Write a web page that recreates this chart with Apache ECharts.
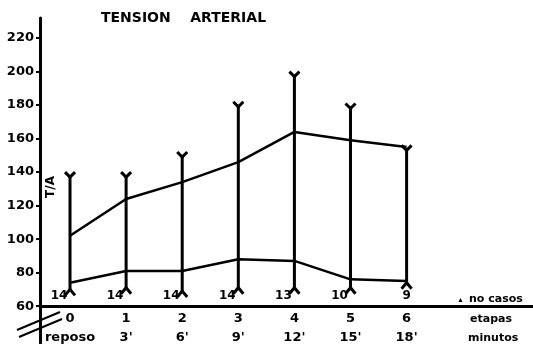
<!DOCTYPE html>
<html>
<head>
<meta charset="utf-8">
<script src="https://cdn.jsdelivr.net/npm/echarts@6/dist/echarts.min.js"></script>
<style>
  html, body { margin: 0; padding: 0; background: #fff; }
  #chart { width: 533px; height: 344px; }
</style>
</head>
<body>
<div id="chart"></div>
<script>
// etapas 0..6 (reposo, 3', 6' ... 18')
const stages = [0, 1, 2, 3, 4, 5, 6];
const stageLabels = ['0', '1', '2', '3', '4', '5', '6'];
const minuteLabels = ['reposo', "3'", "6'", "9'", "12'", "15'", "18'"];
const systolic = [102, 124, 134, 146, 164, 159, 155];
const diastolic = [74, 81, 81, 88, 87, 76, 75];
const rangeHigh = [140, 140, 152, 182, 200, 181, 156];
const rangeLow = [70, 71, 69, 71, 71, 71, 74];
const cases = [14, 14, 14, 14, 13, 10, 9];
const yTicks = [60, 80, 100, 120, 140, 160, 180, 200, 220];

const chart = echarts.init(document.getElementById('chart'));
const ink = '#000';
const font = 'DejaVu Sans';

const option = {
  backgroundColor: '#fff',
  animation: false,
  title: {
    text: 'TENSION    ARTERIAL',
    left: 96,
    top: 6,
    textStyle: { fontFamily: font, fontWeight: 'bold', fontSize: 14, color: ink }
  },
  grid: { left: 40, right: 0, top: 18, bottom: 0 },
  xAxis: {
    type: 'value',
    min: -0.535,
    max: 8.253,
    offset: -37, // baseline sits at 60 mmHg, axis keeps running below
    splitLine: { show: false },
    axisLine: { onZero: false, lineStyle: { color: ink, width: 3 } },
    axisTick: { show: false },
    axisLabel: {
      customValues: stages,
      margin: 3,
      formatter: (v) => '{d|' + stageLabels[v] + '}\n{m|' + minuteLabels[v] + '}',
      rich: {
        d: { fontFamily: font, fontWeight: 'bold', fontSize: 13, color: ink, lineHeight: 19 },
        m: { fontFamily: font, fontWeight: 'bold', fontSize: 13, color: ink, lineHeight: 19 }
      }
    }
  },
  yAxis: {
    type: 'value',
    min: 38,
    max: 232,
    splitLine: { show: false },
    axisLine: { show: true, onZero: false, lineStyle: { color: ink, width: 3 } },
    axisTick: { show: true, customValues: yTicks, length: 4, lineStyle: { color: ink, width: 2 } },
    axisLabel: {
      customValues: yTicks,
      margin: 6,
      fontFamily: font,
      fontWeight: 'bold',
      fontSize: 13,
      color: ink
    }
  },
  graphic: [
    {
      type: 'text', x: 51, y: 187, rotation: Math.PI / 2,
      style: { text: 'T/A', fontFamily: font, fontWeight: 'bold', fontSize: 12, fill: ink, align: 'center', verticalAlign: 'middle' }
    },
    {
      type: 'text', x: 457, y: 300,
      style: { text: '▲', fontSize: 7, fill: ink, verticalAlign: 'middle' }
    },
    {
      type: 'text', x: 469, y: 299,
      style: { text: 'no casos', fontFamily: font, fontWeight: 'bold', fontSize: 11, fill: ink, verticalAlign: 'middle' }
    },
    {
      type: 'text', x: 470, y: 319,
      style: { text: 'etapas', fontFamily: font, fontWeight: 'bold', fontSize: 11, fill: ink, verticalAlign: 'middle' }
    },
    {
      type: 'text', x: 468, y: 338,
      style: { text: 'minutos', fontFamily: font, fontWeight: 'bold', fontSize: 11, fill: ink, verticalAlign: 'middle' }
    },
    // axis break marks
    { type: 'line', shape: { x1: 17, y1: 330, x2: 60, y2: 312 }, style: { stroke: ink, lineWidth: 2 } },
    { type: 'line', shape: { x1: 19, y1: 337, x2: 62, y2: 319 }, style: { stroke: ink, lineWidth: 2 } }
  ],
  series: [
    {
      name: 'rango',
      type: 'custom',
      data: stages.map((s, i) => [s, rangeLow[i], rangeHigh[i]]),
      renderItem: (params, api) => {
        const x = api.value(0);
        const top = api.coord([x, api.value(2)]);
        const bot = api.coord([x, api.value(1)]);
        const st = { stroke: ink, fill: null, lineWidth: 3 };
        return {
          type: 'group',
          children: [
            { type: 'line', shape: { x1: top[0], y1: top[1] + 3, x2: bot[0], y2: bot[1] }, style: st },
            { type: 'polyline', shape: { points: [[top[0] - 5, top[1]], [top[0], top[1] + 5], [top[0] + 5, top[1]]] }, style: st },
            { type: 'polyline', shape: { points: [[bot[0] - 5, bot[1] + 6], [bot[0], bot[1]], [bot[0] + 5, bot[1] + 6]] }, style: st }
          ]
        };
      },
      z: 3
    },
    {
      name: 'sistolica',
      type: 'line',
      data: stages.map((s, i) => [s, systolic[i]]),
      symbol: 'none',
      lineStyle: { color: ink, width: 2.5 },
      z: 4
    },
    {
      name: 'diastolica',
      type: 'line',
      data: stages.map((s, i) => [s, diastolic[i]]),
      symbol: 'none',
      lineStyle: { color: ink, width: 2.5 },
      z: 4
    },
    {
      name: 'casos',
      type: 'scatter',
      data: stages.map((s, i) => [s, 60]),
      symbolSize: 0,
      itemStyle: { opacity: 1 },
      label: {
        show: true,
        position: 'top',
        distance: 4,
        fontFamily: font,
        fontWeight: 'bold',
        fontSize: 12,
        color: ink,
        formatter: (p) => String(cases[p.dataIndex]),
        offset: [-11, 0]
      },
      z: 5
    }
  ]
};

// the last count sits right under its bar
option.series[3].data[6] = { value: [6, 60], label: { offset: [0, 0] } };

chart.setOption(option);
</script>
</body>
</html>
